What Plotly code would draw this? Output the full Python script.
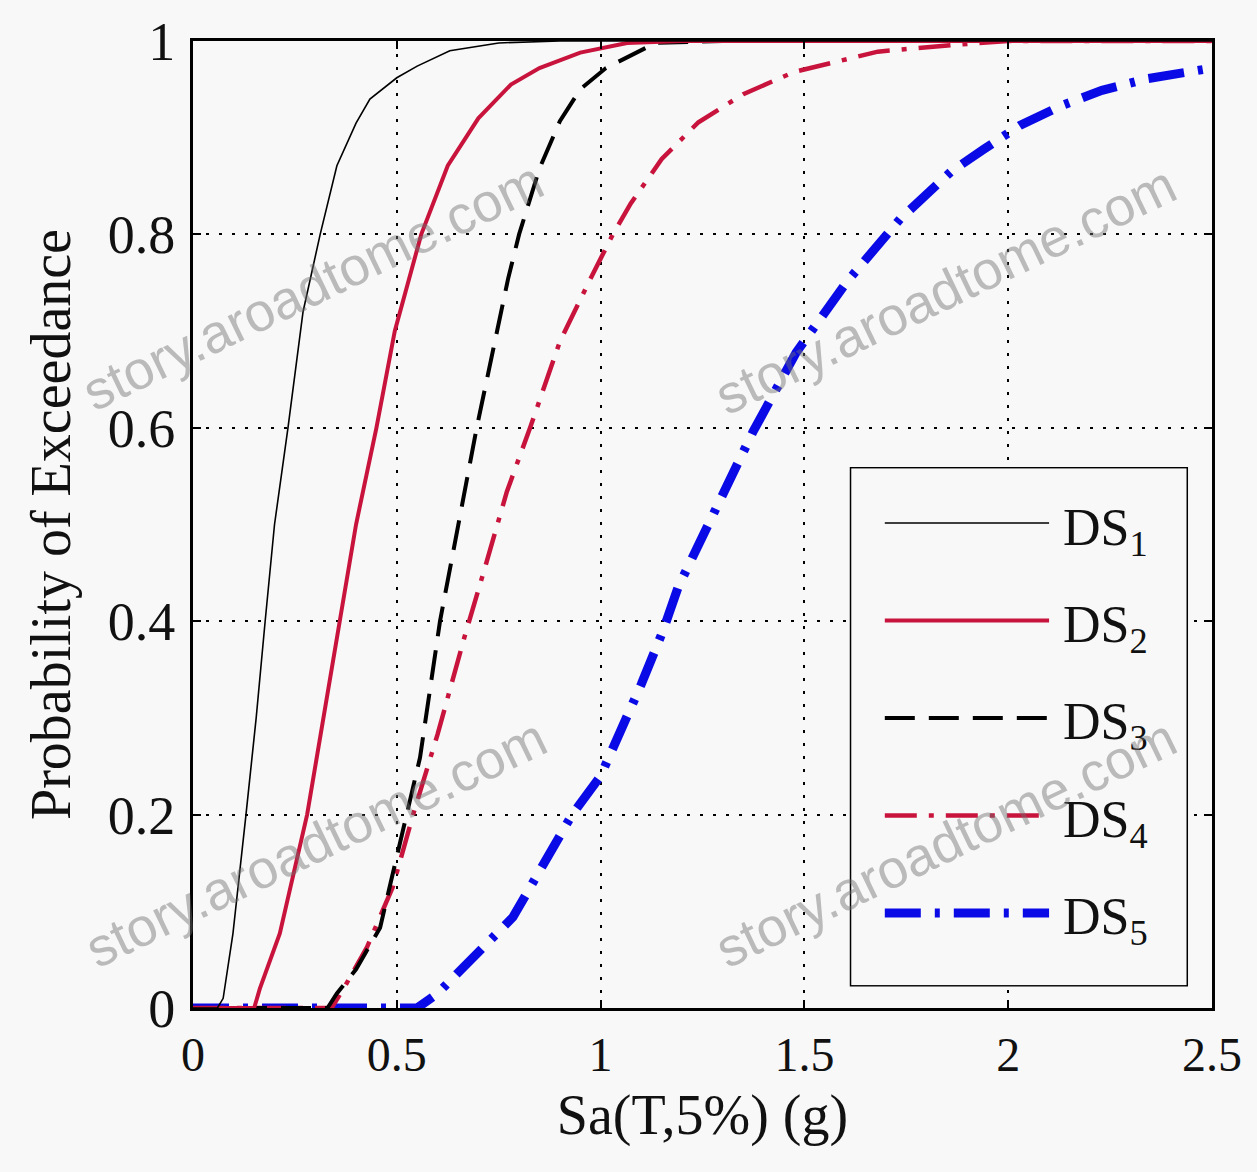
import plotly.graph_objects as go

# ---------------- data ----------------
ds1_x = [0.0, 0.06, 0.074, 0.098, 0.13, 0.155, 0.177, 0.20, 0.233, 0.27, 0.312, 0.353, 0.40, 0.434, 0.50, 0.55, 0.63, 0.75, 0.9, 2.5]
ds1_y = [0.0, 0.0, 0.01, 0.077, 0.2, 0.3, 0.4, 0.5, 0.6, 0.72, 0.8, 0.871, 0.915, 0.94, 0.962, 0.974, 0.99, 0.998, 1.0, 1.0]

ds2_x = [0.0, 0.15, 0.164, 0.213, 0.28, 0.32, 0.36, 0.40, 0.45, 0.495, 0.56, 0.625, 0.70, 0.78, 0.85, 0.95, 1.065, 1.2, 2.5]
ds2_y = [0.0, 0.0, 0.02, 0.077, 0.2, 0.3, 0.4, 0.5, 0.6, 0.7, 0.8, 0.871, 0.92, 0.955, 0.972, 0.988, 0.998, 1.0, 1.0]

ds3_x = [0.0, 0.33, 0.353, 0.40, 0.459, 0.525, 0.557, 0.606, 0.667, 0.696, 0.773, 0.80, 0.85, 0.90, 0.95, 1.013, 1.135, 1.3, 2.5]
ds3_y = [0.0, 0.0, 0.015, 0.04, 0.083, 0.2, 0.259, 0.4, 0.537, 0.6, 0.754, 0.8, 0.868, 0.917, 0.95, 0.972, 0.998, 1.0, 1.0]

ds4_x = [0.0, 0.34, 0.368, 0.427, 0.49, 0.54, 0.60, 0.667, 0.716, 0.77, 0.827, 0.90, 0.975, 1.03, 1.074, 1.15, 1.24, 1.35, 1.475, 1.68, 1.87, 2.0, 2.5]
ds4_y = [0.0, 0.0, 0.019, 0.063, 0.125, 0.2, 0.283, 0.385, 0.455, 0.534, 0.6, 0.689, 0.754, 0.8, 0.832, 0.878, 0.916, 0.945, 0.968, 0.989, 0.996, 1.0, 1.0]

ds5_x = [0.0, 0.52, 0.55, 0.60, 0.68, 0.785, 0.93, 1.0, 1.1, 1.153, 1.19, 1.285, 1.374, 1.48, 1.604, 1.735, 1.86, 1.94, 2.03, 2.13, 2.23, 2.34, 2.5]
ds5_y = [0.0, 0.0, 0.0, 0.015, 0.05, 0.094, 0.2, 0.24, 0.335, 0.39, 0.435, 0.517, 0.596, 0.678, 0.751, 0.816, 0.865, 0.888, 0.913, 0.933, 0.949, 0.961, 0.972]

series_names = ["DS<sub>1</sub>", "DS<sub>2</sub>", "DS<sub>3</sub>", "DS<sub>4</sub>", "DS<sub>5</sub>"]

x_tick_vals = [0, 0.5, 1, 1.5, 2, 2.5]
x_tick_text = ["0", "0.5", "1", "1.5", "2", "2.5"]
y_tick_vals = [0, 0.2, 0.4, 0.6, 0.8, 1]
y_tick_text = ["0", "0.2", "0.4", "0.6", "0.8", "1"]

x_title = "Sa(T,5%) (g)"
y_title = "Probability of Exceedance"
watermark = "story.aroadtome.com"

# ---------------- styles ----------------
RED = "#c8143c"
BLUE = "#0a0ae6"
styles = [
    dict(color="black", width=1.6, dash="solid"),
    dict(color=RED, width=4, dash="solid"),
    dict(color="black", width=4, dash="30px,14px"),
    dict(color=RED, width=4.5, dash="32px,12px,5px,12px"),
    dict(color=BLUE, width=9, dash="36px,14px,5px,14px"),
]
xs = [ds1_x, ds2_x, ds3_x, ds4_x, ds5_x]
ys = [ds1_y, ds2_y, ds3_y, ds4_y, ds5_y]

SERIF = "Liberation Serif, Times New Roman, serif"
BG = "#f8f8f8"

fig = go.Figure()
# draw DS5 first so the thinner curves stay visible where they overlap at 0
order = [4, 3, 2, 1, 0]
for i in order:
    fig.add_trace(go.Scatter(
        x=xs[i], y=ys[i], mode="lines", name=series_names[i],
        line=dict(color=styles[i]["color"], width=styles[i]["width"], dash=styles[i]["dash"]),
        showlegend=False, xaxis="x", yaxis="y", hoverinfo="skip",
    ))

# ---------------- custom legend (sample lines on an auxiliary axis) ----------------
leg_rows = [1, 2, 3, 4, 5]
for i, row in enumerate(leg_rows):
    fig.add_trace(go.Scatter(
        x=[0.10, 0.59], y=[row, row], mode="lines", name="",
        line=dict(color=styles[i]["color"], width=styles[i]["width"], dash=styles[i]["dash"]),
        showlegend=False, xaxis="x2", yaxis="y2", hoverinfo="skip",
    ))

# plot area in paper coords: x 193..1212, y 38..1008 of a 1257x1172 page
lx0, lx1 = 0.646, 0.975
ly0, ly1 = 0.0237, 0.558

fig.update_layout(
    width=1257, height=1172,
    margin=dict(l=193, r=45, t=38, b=164),
    paper_bgcolor=BG, plot_bgcolor=BG,
    font=dict(family=SERIF, color="#111111"),
    xaxis=dict(
        range=[0, 2.5], tickvals=x_tick_vals, ticktext=x_tick_text,
        showline=True, mirror="ticks", linecolor="black", linewidth=3,
        ticks="inside", ticklen=8, tickwidth=2, tickcolor="black",
        showgrid=True, gridcolor="black", gridwidth=2, griddash="3px,10px",
        zeroline=False, tickfont=dict(size=48, family=SERIF),
        ticklabelstandoff=2,
        title=dict(text=x_title, font=dict(size=56, family=SERIF), standoff=16),
    ),
    yaxis=dict(
        range=[0, 1], tickvals=y_tick_vals, ticktext=y_tick_text,
        showline=True, mirror="ticks", linecolor="black", linewidth=3,
        ticks="inside", ticklen=8, tickwidth=2, tickcolor="black",
        showgrid=True, gridcolor="black", gridwidth=2, griddash="3px,10px",
        zeroline=False, tickfont=dict(size=54, family=SERIF),
        ticklabelstandoff=4,
        title=dict(text=y_title, font=dict(size=56, family=SERIF), standoff=20),
    ),
    xaxis2=dict(domain=[lx0, lx1], range=[0, 1], anchor="y2", visible=False, fixedrange=True),
    yaxis2=dict(domain=[ly0, ly1], range=[5.74, 0.44], anchor="x2", visible=False, fixedrange=True),
    showlegend=False,
)

# legend box
fig.add_shape(type="rect", xref="paper", yref="paper", x0=lx0, x1=lx1, y0=ly0, y1=ly1,
              line=dict(color="black", width=3), fillcolor=BG, layer="below")
for i, row in enumerate(leg_rows):
    fig.add_annotation(x=0.625, y=row, xref="x2", yref="y2", text=series_names[i],
                       showarrow=False, xanchor="left", yanchor="middle", yshift=-8,
                       font=dict(size=52, family=SERIF, color="#111111"))

# watermark text
wm_pos = [(0.117, 0.747), (0.120, 0.171), (0.738, 0.742), (0.738, 0.171)]
for (px, py) in wm_pos:
    fig.add_annotation(x=px, y=py, xref="paper", yref="paper", text=watermark,
                       showarrow=False, textangle=-25.7, xanchor="center", yanchor="middle",
                       font=dict(size=54, family="Liberation Sans, Arial, sans-serif",
                                 color="rgba(110,110,110,0.45)"))

fig.write_html(
    "out.html",
    config={"displayModeBar": False},
    post_script="document.body.style.margin='0';document.body.style.background='#f8f8f8';",
)
